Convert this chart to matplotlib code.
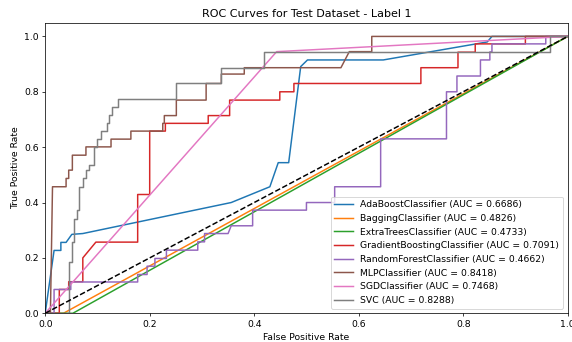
import matplotlib
matplotlib.use("Agg")
import matplotlib.pyplot as plt

# ROC points
ada_fpr = [0, 0.017, 0.03, 0.03, 0.04, 0.051, 0.072, 0.356, 0.43, 0.446, 0.466, 0.489, 0.502, 0.647, 0.846, 0.855, 1.0]
ada_tpr = [0, 0.227, 0.227, 0.256, 0.256, 0.285, 0.288, 0.40, 0.457, 0.544, 0.544, 0.891, 0.915, 0.915, 0.98, 1.0, 1.0]

bag_fpr = [0, 0.035, 1.0]
bag_tpr = [0, 0, 1.0]

et_fpr = [0, 0.053, 1.0]
et_tpr = [0, 0, 1.0]

gb_fpr = [0, 0.027, 0.027, 0.045, 0.045, 0.072, 0.072, 0.097, 0.177, 0.177, 0.2, 0.2, 0.23, 0.23, 0.312, 0.312,
          0.353, 0.353, 0.449, 0.449, 0.476, 0.476, 0.719, 0.719, 0.79, 0.79, 0.823, 0.823, 0.919, 0.919, 1.0]
gb_tpr = [0, 0, 0.086, 0.086, 0.114, 0.114, 0.2, 0.257, 0.257, 0.429, 0.429, 0.658, 0.658, 0.686, 0.686, 0.714,
          0.714, 0.77, 0.77, 0.8, 0.8, 0.83, 0.83, 0.887, 0.887, 0.943, 0.943, 0.973, 0.973, 1.0, 1.0]

rf_fpr = [0, 0.017, 0.017, 0.049, 0.049, 0.177, 0.177, 0.195, 0.195, 0.21, 0.21, 0.232, 0.232, 0.292, 0.292,
          0.305, 0.305, 0.35, 0.356, 0.397, 0.397, 0.5, 0.5, 0.554, 0.554, 0.642, 0.642, 0.768, 0.768, 0.788,
          0.788, 0.833, 0.833, 0.851, 0.851, 0.855, 0.855, 0.958, 0.958, 1.0]
rf_tpr = [0, 0, 0.086, 0.086, 0.113, 0.113, 0.14, 0.14, 0.17, 0.17, 0.198, 0.198, 0.228, 0.228, 0.258,
          0.258, 0.288, 0.288, 0.316, 0.316, 0.3725, 0.3725, 0.40, 0.40, 0.457, 0.457, 0.63, 0.63, 0.80, 0.80,
          0.857, 0.857, 0.915, 0.915, 0.944, 0.944, 0.973, 0.973, 1.0, 1.0]

mlp_fpr = [0, 0.01, 0.014, 0.04, 0.04, 0.045, 0.045, 0.052, 0.052, 0.078, 0.078, 0.126, 0.126, 0.164, 0.164,
           0.225, 0.225, 0.228, 0.228, 0.251, 0.251, 0.308, 0.308, 0.337, 0.337, 0.381, 0.381, 0.566, 0.582,
           0.625, 0.625, 1.0]
mlp_tpr = [0, 0, 0.457, 0.457, 0.487, 0.487, 0.517, 0.517, 0.571, 0.571, 0.601, 0.601, 0.629, 0.629, 0.658,
           0.658, 0.686, 0.686, 0.714, 0.714, 0.77, 0.77, 0.83, 0.83, 0.864, 0.864, 0.887, 0.887, 0.945,
           0.945, 1.0, 1.0]

sgd_fpr = [0, 0.443, 1.0]
sgd_tpr = [0, 0.945, 1.0]

svc_fpr = [0, 0.045, 0.045, 0.051, 0.051, 0.056, 0.056, 0.06, 0.06, 0.065, 0.065, 0.072, 0.072, 0.078, 0.078,
           0.084, 0.084, 0.093, 0.093, 0.099, 0.099, 0.107, 0.107, 0.118, 0.118, 0.123, 0.123, 0.127, 0.127,
           0.14, 0.14, 0.251, 0.251, 0.337, 0.337, 0.419, 0.419, 0.967, 0.967, 1.0]
svc_tpr = [0, 0, 0.186, 0.186, 0.258, 0.258, 0.342, 0.342, 0.373, 0.373, 0.457, 0.457, 0.487, 0.487, 0.517,
           0.517, 0.535, 0.535, 0.601, 0.601, 0.629, 0.629, 0.658, 0.658, 0.686, 0.686, 0.716, 0.716, 0.744,
           0.744, 0.773, 0.773, 0.83, 0.83, 0.887, 0.887, 0.945, 0.945, 1.0, 1.0]

names = ["AdaBoostClassifier", "BaggingClassifier", "ExtraTreesClassifier", "GradientBoostingClassifier",
         "RandomForestClassifier", "MLPClassifier", "SGDClassifier", "SVC"]
aucs = [0.6686, 0.4826, 0.4733, 0.7091, 0.4662, 0.8418, 0.7468, 0.8288]
curves = [(ada_fpr, ada_tpr), (bag_fpr, bag_tpr), (et_fpr, et_tpr), (gb_fpr, gb_tpr),
          (rf_fpr, rf_tpr), (mlp_fpr, mlp_tpr), (sgd_fpr, sgd_tpr), (svc_fpr, svc_tpr)]

dpi = 67
fig = plt.figure(figsize=(572 / dpi, 342 / dpi), dpi=dpi)
ax = fig.add_subplot(111)
fig.subplots_adjust(left=0.079, right=0.9925, bottom=0.084, top=0.934)

for name, auc, (fpr, tpr) in zip(names, aucs, curves):
    ax.plot(fpr, tpr, lw=1.6, label=f"{name} (AUC = {auc:.4f})")

ax.plot([0, 1], [0, 1], "k--", lw=1.6)
ax.set_xlim([0.0, 1.0])
ax.set_ylim([0.0, 1.05])
ax.set_xlabel("False Positive Rate")
ax.set_ylabel("True Positive Rate")
ax.set_title("ROC Curves for Test Dataset - Label 1")
ax.legend(loc="lower right")

fig.savefig("out.png", dpi=dpi)
